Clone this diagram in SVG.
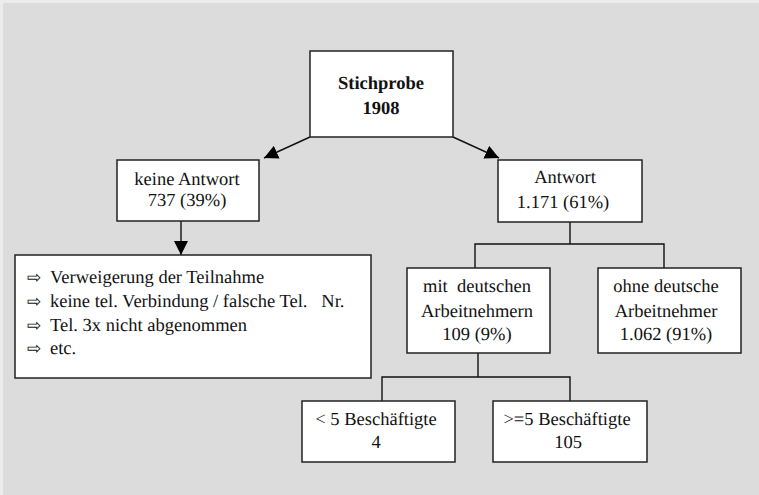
<svg xmlns="http://www.w3.org/2000/svg" width="759" height="495" viewBox="0 0 759 495">
<defs>
<style>
text{font-family:"Liberation Serif",serif;text-rendering:geometricPrecision}
.box{fill:#fff;stroke:#222;stroke-width:1.5}
.t{font-size:18.5px;fill:#111;text-anchor:middle}
.b{font-weight:bold}
.l{font-size:18.5px;fill:#111}
.s{font-family:"DejaVu Sans",sans-serif;font-size:17px}
.c{fill:none;stroke:#111;stroke-width:1.4}
</style>
<marker id="ah" viewBox="0 0 14 14" markerWidth="14" markerHeight="14" refX="14" refY="7" orient="auto" markerUnits="userSpaceOnUse">
<path d="M0,0 L14,7 L0,14 z" fill="#000"/>
</marker>
</defs>
<rect x="0" y="0" width="759" height="495" fill="#ececec"/>
<rect x="3" y="3" width="756" height="492" fill="#dcdcdc"/>
<g id="connectors">
<line class="c" x1="310" y1="137" x2="264" y2="158" marker-end="url(#ah)"/>
<line class="c" x1="453" y1="137" x2="499" y2="158" marker-end="url(#ah)"/>
<line class="c" x1="181" y1="221" x2="181" y2="255" marker-end="url(#ah)"/>
<path class="c" d="M570,222 V244 M475,268 V244 H664 V268"/>
<path class="c" d="M478,353 V377 M382,401 V377 H570 V401"/>
</g>
<g id="stichprobe">
<rect class="box" x="310" y="51" width="143" height="86"/>
<text class="t b" x="381" y="89">Stichprobe</text>
<text class="t b" x="381" y="114">1908</text>
</g>
<g id="keine-antwort">
<rect class="box" x="117" y="160" width="142" height="61"/>
<text class="t" x="187" y="185">keine Antwort</text>
<text class="t" x="187" y="206">737 (39%)</text>
</g>
<g id="gruende">
<rect class="box" x="15" y="255" width="356" height="123"/>
<text class="l" y="283"><tspan class="s" x="27">⇨</tspan><tspan x="50">Verweigerung der Teilnahme</tspan></text>
<text class="l" y="307"><tspan class="s" x="27">⇨</tspan><tspan x="50" xml:space="preserve">keine tel. Verbindung / falsche Tel.   Nr.</tspan></text>
<text class="l" y="331"><tspan class="s" x="27">⇨</tspan><tspan x="50">Tel. 3x nicht abgenommen</tspan></text>
<text class="l" y="354"><tspan class="s" x="27">⇨</tspan><tspan x="50">etc.</tspan></text>
</g>
<g id="antwort">
<rect class="box" x="498" y="160" width="144" height="62"/>
<text class="t" x="565" y="183">Antwort</text>
<text class="t" x="563" y="208">1.171 (61%)</text>
</g>
<g id="mit-deutschen">
<rect class="box" x="407" y="268" width="143" height="85"/>
<text class="t" x="477" y="292" xml:space="preserve">mit  deutschen</text>
<text class="t" x="477" y="317">Arbeitnehmern</text>
<text class="t" x="477" y="340">109 (9%)</text>
</g>
<g id="ohne-deutsche">
<rect class="box" x="598" y="268" width="143" height="85"/>
<text class="t" x="666" y="292">ohne deutsche</text>
<text class="t" x="666" y="317">Arbeitnehmer</text>
<text class="t" x="666" y="340">1.062 (91%)</text>
</g>
<g id="unter5">
<rect class="box" x="302" y="401" width="153" height="61"/>
<text class="t" x="376" y="425">&lt; 5 Beschäftigte</text>
<text class="t" x="376" y="448">4</text>
</g>
<g id="ab5">
<rect class="box" x="493" y="401" width="154" height="61"/>
<text class="t" x="567" y="425">&gt;=5 Beschäftigte</text>
<text class="t" x="568" y="448">105</text>
</g>
</svg>
